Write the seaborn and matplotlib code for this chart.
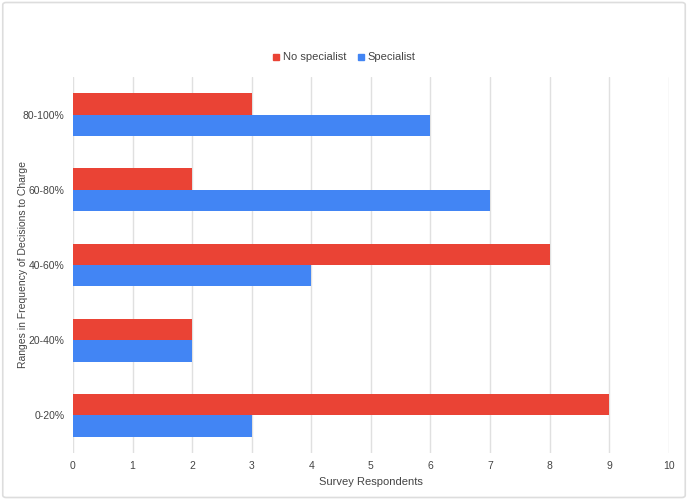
import matplotlib.pyplot as plt
import seaborn as sns
import pandas as pd
from matplotlib.patches import FancyBboxPatch
from matplotlib.lines import Line2D

# Dados do gráfico
categories = ['80-100%', '60-80%', '40-60%', '20-40%', '0-20%']
no_specialist = [3, 2, 8, 2, 9]
specialist = [6, 7, 4, 2, 3]
series_names = ['No specialist', 'Specialist']
x_ticks = list(range(0, 11))

RED = "#EA4335"
BLUE = "#4285F4"

df = pd.DataFrame({
    'Range': categories * 2,
    'Group': [series_names[0]] * len(categories) + [series_names[1]] * len(categories),
    'Respondents': no_specialist + specialist,
})

sns.set_theme(style="white")
plt.rcParams['font.family'] = ['Liberation Sans', 'DejaVu Sans']

fig = plt.figure(figsize=(6.88, 5.0), dpi=100)
ax = fig.add_axes([0.106, 0.094, 0.866, 0.752])

sns.barplot(data=df, y='Range', x='Respondents', hue='Group', order=categories,
            hue_order=series_names, palette={series_names[0]: RED, series_names[1]: BLUE},
            orient='h', width=0.57, saturation=1, linewidth=0, legend=False, ax=ax)

ax.set_xlim(0, 10)
ax.set_ylim(len(categories) - 0.5, -0.5)
ax.set_xticks(x_ticks)
ax.xaxis.grid(True, color='#e0e0e0', linewidth=1)
ax.set_axisbelow(True)
for s in ax.spines.values():
    s.set_visible(False)
ax.tick_params(axis='both', length=0, labelsize=7.5, labelcolor='#444444')
ax.tick_params(axis='y', pad=6)
ax.tick_params(axis='x', pad=6)
ax.set_xlabel('Survey Respondents', fontsize=8, color='#444444', labelpad=4)
ax.set_ylabel('Ranges in Frequency of Decisions to Charge', fontsize=7.5, color='#444444')
ax.yaxis.set_label_coords(-0.076, 0.5)

# Legenda no topo
handles = [Line2D([], [], marker='s', linestyle='', markersize=5, color=c) for c in (RED, BLUE)]
fig.legend(handles, series_names, loc='center', bbox_to_anchor=(0.5, 0.885), ncol=2,
           frameon=False, fontsize=8, handlelength=0.6, handletextpad=0.3, columnspacing=1.0,
           labelcolor='#444444')

# Moldura leve à volta da figura
border = FancyBboxPatch((0.004, 0.005), 0.992, 0.99, boxstyle='round,pad=0,rounding_size=0.005',
                        transform=fig.transFigure, fill=False, edgecolor='#dddddd', linewidth=1.2)
fig.patches.append(border)

fig.savefig('out.png', dpi=100)
